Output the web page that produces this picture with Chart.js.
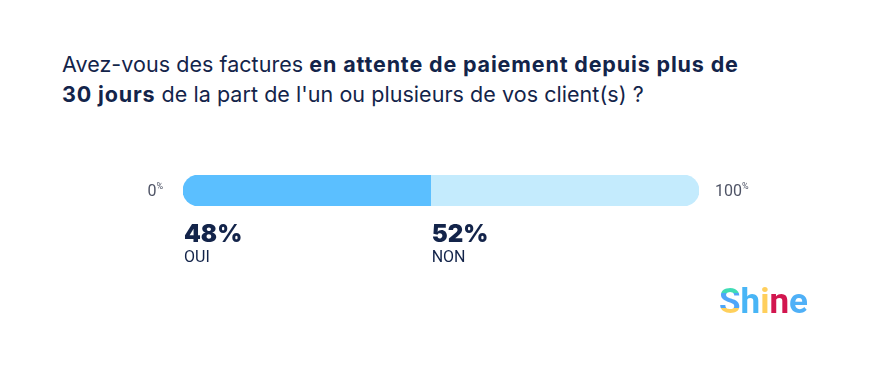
<!DOCTYPE html>
<html>
<head>
<meta charset="utf-8">
<script src="https://cdn.jsdelivr.net/npm/chart.js@4"></script>
<style>
  html, body { margin: 0; padding: 0; background: #fff; }
  #wrap { position: relative; width: 882px; height: 370px; overflow: hidden; }
  #graficoReponses { position: absolute; left: 0; top: 0; }
  #titre {
    position: absolute; left: 62px; top: 49px; width: 800px; white-space: nowrap;
    font-family: "Inter", sans-serif; font-size: 21.5px; line-height: 30px;
    letter-spacing: 0.05px; color: #13244a;
  }
  #titre b { font-weight: 700; letter-spacing: 0.85px; }
  #logo {
    position: absolute; left: 719px; top: 281px;
    font-family: "Roboto", sans-serif; font-weight: 700; font-size: 35px;
  }
  #logo .s {
    background: linear-gradient(180deg, #3fdcb5 0%, #3fdcb5 30%, #4fa6f8 30%, #4fa6f8 66%, #ffd05c 66%, #ffd05c 100%);
    -webkit-background-clip: text; background-clip: text; color: transparent;
  }
</style>
</head>
<body>
<div id="wrap">
  <div id="titre">Avez-vous des factures <b>en attente de paiement depuis plus de</b><br><b>30 jours</b> de la part de l'un ou plusieurs de vos client(s) ?</div>
  <canvas id="graficoReponses" width="882" height="370"></canvas>
  <div id="logo"><span class="s">S</span><span style="color:#48b5f6">h</span><span style="color:#ffcf5c">i</span><span style="color:#d2164f">n</span><span style="color:#4fb0f7">e</span></div>
</div>
<script>
document.addEventListener("DOMContentLoaded", () => {

    // donnees
    const reponses = ['OUI', 'NON'];
    const pourcentages = [48, 52];
    const couleurs = ['#5bbfff', '#c4ebfd'];
    const bornes = ['0', '100'];

    const etiquettes = {
        id: 'etiquettes',
        afterDatasetsDraw(chart) {
            const ctx = chart.ctx;
            const x = chart.scales.x;
            const zone = chart.chartArea;
            const milieu = (zone.top + zone.bottom) / 2;

            ctx.save();
            // bornes 0% et 100%
            ctx.fillStyle = '#4f5466';
            ctx.textBaseline = 'middle';
            const dessinerBorne = (texte, px) => {
                ctx.font = '16px Roboto';
                ctx.fillText(texte, px, milieu + 1);
                const w = ctx.measureText(texte).width;
                ctx.font = '9px Roboto';
                ctx.fillText('%', px + w, milieu - 4);
            };
            ctx.font = '16px Roboto';
            let w0 = ctx.measureText(bornes[0]).width;
            ctx.font = '9px Roboto';
            w0 += ctx.measureText('%').width;
            dessinerBorne(bornes[0], x.getPixelForValue(0) - 20 - w0);
            dessinerBorne(bornes[1], x.getPixelForValue(100) + 16);

            // valeurs et reponses sous la barre
            let cumul = 0;
            pourcentages.forEach((v, i) => {
                const px = x.getPixelForValue(cumul) + 1;
                ctx.fillStyle = '#13244a';
                ctx.textBaseline = 'alphabetic';
                ctx.font = '900 24px Inter';
                ctx.fillText(v + '%', px, zone.bottom + 36);
                ctx.font = '16px Roboto';
                ctx.fillText(reponses[i], px, zone.bottom + 56);
                cumul += v;
            });
            ctx.restore();
        }
    };

    new Chart(document.querySelector('#graficoReponses'), {
        type: 'bar',
        data: {
            labels: [''],
            datasets: reponses.map((r, i) => ({
                label: r,
                data: [pourcentages[i]],
                backgroundColor: couleurs[i],
                borderSkipped: false,
                borderRadius: i === 0
                    ? { topLeft: 16, bottomLeft: 16, topRight: 0, bottomRight: 0 }
                    : { topLeft: 0, bottomLeft: 0, topRight: 16, bottomRight: 16 },
                barPercentage: 1,
                categoryPercentage: 1
            }))
        },
        options: {
            indexAxis: 'y',
            responsive: false,
            animation: false,
            layout: { padding: { left: 183, right: 183, top: 175, bottom: 164 } },
            scales: {
                x: { stacked: true, min: 0, max: 100, display: false },
                y: { stacked: true, display: false }
            },
            plugins: {
                legend: { display: false },
                tooltip: { enabled: false }
            }
        },
        plugins: [etiquettes]
    });
});
</script>
</body>
</html>
